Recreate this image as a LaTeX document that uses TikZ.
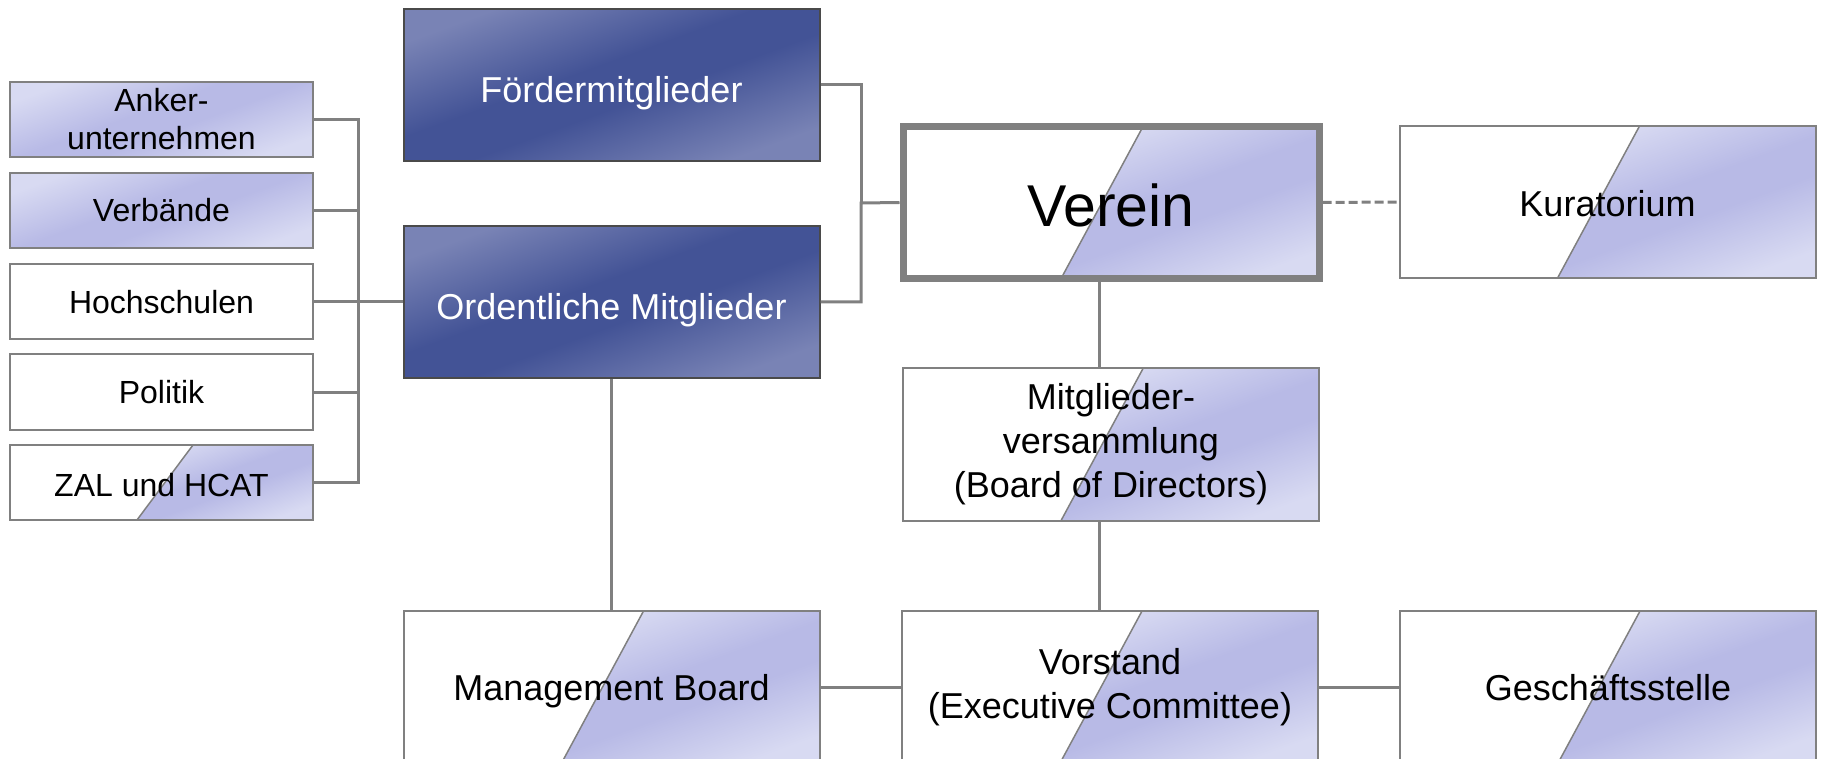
\documentclass[tikz,border=0pt]{standalone}
\usepackage{fontspec}
\setmainfont{Liberation Sans}
\usetikzlibrary{calc}

\definecolor{orglinegray}{HTML}{808080}
\definecolor{orgframegray}{HTML}{4A4A4A}
\definecolor{lavenderdark}{HTML}{B8BAE6}
\definecolor{lavenderlight}{HTML}{D8DAF2}
\definecolor{navydark}{HTML}{435396}
\definecolor{navylight}{HTML}{7983B5}

\pgfdeclarehorizontalshading{lavendershade}{100bp}{color(0bp)=(lavenderlight); color(25bp)=(lavenderlight); color(45bp)=(lavenderdark); color(55bp)=(lavenderdark); color(75bp)=(lavenderlight); color(100bp)=(lavenderlight)}
\pgfdeclarehorizontalshading{navyshade}{100bp}{color(0bp)=(navylight); color(25bp)=(navylight); color(45bp)=(navydark); color(55bp)=(navydark); color(75bp)=(navylight); color(100bp)=(navylight)}

\newcommand\orgboxwidth{416pt}
\newcommand\orgboxheight{152pt}
\newcommand\smallboxwidth{303pt}
\newcommand\smallboxheight{75pt}
\newcommand\orgshadeangle{-70}
\newcommand\orgtextstyle{\fontsize{36}{44}\selectfont}
\newcommand\smalltextstyle{\fontsize{32}{38}\selectfont}
\newcommand\vereintextstyle{\fontsize{59}{66}\selectfont}

\tikzset{
  orgbox/.style={draw=orglinegray, line width=2pt, inner sep=0pt, align=center,
    minimum width=\orgboxwidth, minimum height=\orgboxheight, font=\orgtextstyle},
  smallbox/.style={orgbox, minimum width=\smallboxwidth, minimum height=\smallboxheight, font=\smalltextstyle},
  oneline/.style={text height=#1, text depth=0pt},
  navybox/.style={orgbox, draw=orgframegray, shade, shading=navyshade, shading angle=\orgshadeangle,
    text=white, oneline=35pt},
  lavenderbox/.style={shade, shading=lavendershade, shading angle=\orgshadeangle},
  halffill/.style 2 args={path picture={
    \coordinate (slanttop) at ($(path picture bounding box.north west)!#1!(path picture bounding box.north east)$);
    \coordinate (slantbottom) at ($(path picture bounding box.south west)!#2!(path picture bounding box.south east)$);
    \shade[lavenderbox] (slanttop) -- (path picture bounding box.north east)
      -- (path picture bounding box.south east) -- (slantbottom) -- cycle;
    \draw[orglinegray, line width=1.5pt] (slanttop) -- (slantbottom);
  }},
  halfbox/.style={orgbox, halffill={0.577}{0.38}},
  orglink/.style={draw=orglinegray, line width=3pt}
}

\begin{document}
\begin{tikzpicture}[x=1pt, y=-1pt]
  \useasboundingbox (0,0) rectangle (1824,759);
  \clip (0,0) rectangle (1824,759);

  \node[smallbox, lavenderbox] (anker) at (161.5,119.5) {Anker-\\unternehmen};
  \node[smallbox, lavenderbox] (verbaende) at (161.5,210.5) {Verbände};
  \node[smallbox] (hochschulen) at (161.5,302) {Hochschulen};
  \node[smallbox] (politik) at (161.5,392) {Politik};
  \node[smallbox, halffill={0.604}{0.419}, oneline=28pt] (zal) at (161.5,482.5) {ZAL und HCAT};

  \node[navybox] (foerder) at (611.5,85) {Fördermitglieder};
  \node[navybox] (ordentlich) at (611.5,302) {Ordentliche Mitglieder};
  \node[halfbox, line width=7pt, font=\vereintextstyle, oneline=49pt] (verein) at (1111,202.5) {Verein};
  \node[halfbox, oneline=30pt] (kuratorium) at (1607.5,202) {Kuratorium};
  \node[halfbox] (versammlung) at (1111,444.5) {Mitglieder-\\versammlung\\(Board of Directors)};
  \node[halfbox, oneline=26pt] (management) at (611.5,687) {Management Board};
  \node[halfbox] (vorstand) at (1110,687) {Vorstand\\(Executive Committee)};
  \node[halfbox, oneline=26pt] (geschaeft) at (1608,687) {Geschäftsstelle};

  \coordinate (memberbus) at (358,302);
  \coordinate (vereinbus) at (861,203);
  \draw[orglink] (anker.east) -| (memberbus);
  \draw[orglink] (verbaende.east) -| (memberbus);
  \draw[orglink] (hochschulen.east) -- (memberbus);
  \draw[orglink] (politik.east) -| (memberbus);
  \draw[orglink] (zal.east) -| (memberbus);
  \draw[orglink] (memberbus) -- (ordentlich.west);
  \draw[orglink] (foerder.east) -| (vereinbus);
  \draw[orglink] (ordentlich.east) -| (vereinbus) -- (verein.west);
  \draw[orglink, dash pattern=on 9pt off 4pt] (verein.east) -- (kuratorium.west);
  \draw[orglink] ([xshift=-12pt]verein.south) -- ([xshift=-12pt]versammlung.north);
  \draw[orglink] ([xshift=-12pt]versammlung.south) -- ([xshift=-11pt]vorstand.north);
  \draw[orglink] (ordentlich.south) -- (management.north);
  \draw[orglink] (management.east) -- (vorstand.west);
  \draw[orglink] (vorstand.east) -- (geschaeft.west);
\end{tikzpicture}
\end{document}
